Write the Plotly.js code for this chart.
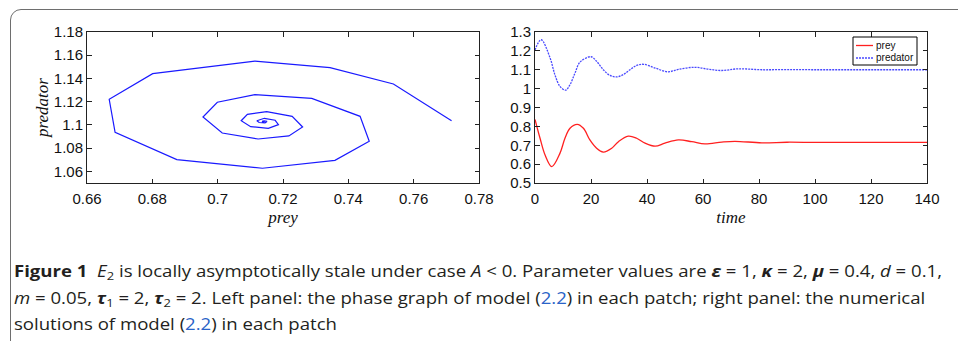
<!DOCTYPE html>
<html>
<head>
<meta charset="utf-8">
<script src="https://cdn.plot.ly/plotly-3.0.1.min.js"></script>
<style>
  html, body { margin:0; padding:0; width:958px; height:341px; overflow:hidden; background:#fff; }
  #frame { position:absolute; left:10px; top:9px; width:1000px; height:400px; border:1.6px solid #6e6e6e; border-radius:11px; box-sizing:border-box; }
  #plot { position:absolute; left:0; top:0; width:958px; height:341px; }
  #caption { position:absolute; left:14px; top:259px; font-family:"Open Sans", "Noto Sans", sans-serif; font-size:16px; line-height:24.5px; color:#231f20; }
  #caption .ln { white-space:nowrap; display:block; transform-origin:0 0; }
  #caption .ln span.w { display:inline-block; white-space:nowrap; }
  #caption a { color:#2a63c7; text-decoration:none; }
  #caption sub { font-size:70%; vertical-align:baseline; position:relative; top:0.3em; }
</style>
</head>
<body>
<div id="frame"></div>
<div id="plot"></div>
<div id="caption">
  <div class="ln"><span class="w" id="l1"><b>Figure 1</b>&nbsp;&nbsp;<i>E</i><sub>2</sub> is locally asymptotically stale under case <i>A</i> &lt; 0. Parameter values are <b><i>ε</i></b> = 1, <b><i>κ</i></b> = 2, <b><i>μ</i></b> = 0.4, <i>d</i> = 0.1,</span></div>
  <div class="ln"><span class="w" id="l2"><i>m</i> = 0.05, <b><i>τ</i></b><sub>1</sub> = 2, <b><i>τ</i></b><sub>2</sub> = 2. Left panel: the phase graph of model (<a>2.2</a>) in each patch; right panel: the numerical</span></div>
  <div class="ln"><span class="w" id="l3">solutions of model (<a>2.2</a>) in each patch</span></div>
</div>
<script>
// ---- Left panel: phase graph (prey vs predator) ----
const phasePrey = [0.7716,0.7538,0.7344,0.7114,0.6801,0.6668,0.6686,0.6875,0.7137,0.7359,0.7464,0.7436,0.7288,0.7114,0.6999,0.6955,0.7014,0.7124,0.7218,0.7260,0.7228,0.7150,0.7091,0.7072,0.7101,0.7155,0.7186,0.7176,0.7143,0.7120,0.7127,0.7145,0.7151,0.7142,0.7136,0.7140,0.7143,0.7141];
const phasePredator = [1.1036,1.1352,1.1493,1.1550,1.1441,1.1221,1.0937,1.0701,1.0627,1.0695,1.0859,1.1074,1.1229,1.1260,1.1195,1.1068,1.0930,1.0879,1.0905,1.0982,1.1074,1.1114,1.1091,1.1036,1.0985,1.0971,1.1002,1.1040,1.1057,1.1036,1.1021,1.1017,1.1030,1.1035,1.1030,1.1025,1.1029,1.1028];

// ---- Right panel: time series ----
const preyTime = [0,1.8,3.6,6,8.9,10.7,12.5,15.1,17.3,19.6,22,24.4,27.4,29.8,33.3,36.3,39.3,42.9,46.4,51.2,56,60.7,66.7,71.4,81,90,100,110,120,130,140];
const preyVals = [0.837,0.737,0.648,0.587,0.657,0.737,0.790,0.811,0.790,0.728,0.684,0.664,0.684,0.719,0.748,0.737,0.711,0.695,0.711,0.728,0.719,0.707,0.717,0.721,0.713,0.716,0.715,0.715,0.715,0.715,0.715];
const predTime = [0,2.2,5.4,7.1,8.9,10.9,12.5,14.3,16.1,20,22,24.4,26.8,29.2,31.5,33.9,36.3,38.8,42.9,47.5,51.2,57,61.9,66.7,72.6,81,90,100,110,120,130,140];
const predVals = [1.205,1.259,1.162,1.074,1.012,0.992,1.021,1.083,1.141,1.169,1.145,1.100,1.070,1.062,1.074,1.100,1.123,1.129,1.109,1.089,1.102,1.113,1.103,1.096,1.105,1.100,1.101,1.100,1.100,1.100,1.100,1.100];

// ---- Tick labels ----
const leftXTicks = [0.66,0.68,0.70,0.72,0.74,0.76,0.78];
const leftXLabels = ['0.66','0.68','0.7','0.72','0.74','0.76','0.78'];
const leftYTicks = [1.06,1.08,1.10,1.12,1.14,1.16,1.18];
const leftYLabels = ['1.06','1.08','1.1','1.12','1.14','1.16','1.18'];
const rightXTicks = [0,20,40,60,80,100,120,140];
const rightXLabels = ['0','20','40','60','80','100','120','140'];
const rightYTicks = [0.5,0.6,0.7,0.8,0.9,1.0,1.1,1.2,1.3];
const rightYLabels = ['0.5','0.6','0.7','0.8','0.9','1','1.1','1.2','1.3'];

// ---- Legend entries ----
const legendNames = ['prey','predator'];

const tickFont = {family:'Liberation Sans, Arial, sans-serif', size:15, color:'#111'};
const titleFont = {family:'Liberation Serif, serif', size:17, color:'#111'};
const preyColor = '#ff2020';
const predColor = '#4a4aff';

function axisBase(extra){
  return Object.assign({
    showline:true, linecolor:'#222', linewidth:1, mirror:'ticks',
    ticks:'inside', ticklen:4.5, tickcolor:'#222', tickwidth:1,
    showgrid:false, zeroline:false, tickmode:'array', tickfont:tickFont,
    fixedrange:true
  }, extra);
}

const traces = [
  {x:phasePrey, y:phasePredator, type:'scatter', mode:'lines', xaxis:'x', yaxis:'y',
   line:{color:'#1a1aff', width:1.2}, showlegend:false},
  {x:preyTime, y:preyVals, type:'scatter', mode:'lines', xaxis:'x2', yaxis:'y2', name:legendNames[0],
   line:{color:preyColor, width:1.3, shape:'spline', smoothing:1}, showlegend:false},
  {x:predTime, y:predVals, type:'scatter', mode:'lines', xaxis:'x2', yaxis:'y2', name:legendNames[1],
   line:{color:predColor, width:1.3, shape:'spline', smoothing:1, dash:'2px,1px'}, showlegend:false}
];

// legend box (paper coordinates derived from pixel layout)
const W = 958, H = 341;
const px = v => v / W, py = v => 1 - v / H;
const shapes = [
  {type:'rect', xref:'paper', yref:'paper', x0:px(853), x1:px(917), y0:py(37), y1:py(65), line:{color:'#000', width:1}, fillcolor:'#fff', layer:'above'},
  {type:'line', xref:'paper', yref:'paper', x0:px(856), x1:px(873), y0:py(45.5), y1:py(45.5), line:{color:preyColor, width:1.3}, layer:'above'},
  {type:'line', xref:'paper', yref:'paper', x0:px(856), x1:px(873), y0:py(58), y1:py(58), line:{color:predColor, width:1.3, dash:'2px,1px'}, layer:'above'}
];
const legendFont = {family:'Liberation Sans, Arial, sans-serif', size:10, color:'#111'};
const annotations = [
  {xref:'paper', yref:'paper', x:px(875), y:py(45.5), xanchor:'left', yanchor:'middle', text:legendNames[0], showarrow:false, font:legendFont, borderpad:0},
  {xref:'paper', yref:'paper', x:px(875), y:py(58), xanchor:'left', yanchor:'middle', text:legendNames[1], showarrow:false, font:legendFont, borderpad:0}
];

const layout = {
  width:W, height:H,
  margin:{l:0, r:0, t:0, b:0},
  paper_bgcolor:'rgba(0,0,0,0)', plot_bgcolor:'#fff',
  xaxis: axisBase({domain:[87/W, 479/W], range:[0.66,0.78], tickvals:leftXTicks, ticktext:leftXLabels, anchor:'y', ticklabelstandoff:2,
    title:{text:'<i>prey</i>', font:titleFont, standoff:5}}),
  yaxis: axisBase({domain:[1-183/H, 1-32/H], range:[1.05,1.18], tickvals:leftYTicks, ticktext:leftYLabels, anchor:'x',
    title:{text:'<i>predator</i>', font:titleFont, standoff:0}}),
  xaxis2: axisBase({domain:[535/W, 927/W], range:[0,140], tickvals:rightXTicks, ticktext:rightXLabels, anchor:'y2', ticklabelstandoff:2,
    title:{text:'<i>time</i>', font:titleFont, standoff:5}}),
  yaxis2: axisBase({domain:[1-183/H, 1-32/H], range:[0.5,1.3], tickvals:rightYTicks, ticktext:rightYLabels, anchor:'x2'}),
  showlegend:false,
  shapes:shapes,
  annotations:annotations
};

Plotly.newPlot('plot', traces, layout, {staticPlot:true, displayModeBar:false});

// fit caption lines to the reference widths
(function(){
  const l1 = document.getElementById('l1');
  const w = l1.getBoundingClientRect().width;
  const s = 928 / w;
  document.querySelectorAll('#caption .ln').forEach(function(el){ el.style.transform = 'scaleX(' + s + ')'; });
})();
</script>
</body>
</html>
